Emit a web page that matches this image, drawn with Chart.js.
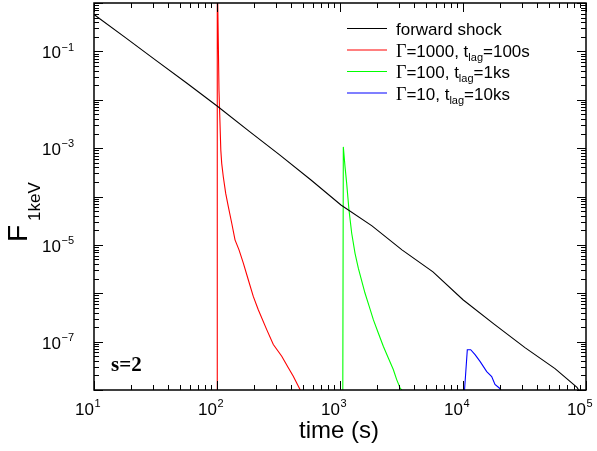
<!DOCTYPE html>
<html>
<head>
<meta charset="utf-8">
<script src="https://cdn.jsdelivr.net/npm/chart.js@4"></script>
<style>
  body { margin: 0; background: #fff; }
  canvas { display: block; }
</style>
</head>
<body>
<canvas id="chart" width="597" height="451"></canvas>
<script>
// Data (time in s, flux at 1 keV)
var shockTime = [10, 17.9, 31.9, 57.0, 102, 182, 325, 581, 1018, 1820, 3190, 5700, 10000, 17900, 31900, 56000, 84500, 95000];
var shockFlux = [0.579, 0.195, 0.0652, 0.0219, 7.18e-3, 2.24e-3, 7.18e-4, 2.19e-4, 6.68e-5, 2.47e-5, 7.9e-6, 2.77e-6, 7.35e-7, 2.30e-7, 7.52e-8, 2.77e-8, 1.13e-8, 7e-9];

var redTime = [100, 100.5, 103.8, 107.4, 109.2, 112.5, 117.7, 123.6, 131.8, 140.1, 151, 163.7, 179.6, 197.2, 216.6, 253.6, 287, 336, 380, 417, 473, 519];
var redFlux = [1e-9, 5, 1.57e-2, 9.1e-4, 4.84e-4, 2.56e-4, 1.16e-4, 6.2e-5, 2.8e-5, 1.27e-5, 7.9e-6, 4.2e-6, 1.9e-6, 8.6e-7, 4.57e-7, 1.77e-7, 8.7e-8, 4.98e-8, 2.87e-8, 1.93e-8, 1.02e-8, 6.4e-9];

var greenTime = [1052, 1064, 1099, 1133, 1183, 1245, 1325, 1409, 1596, 1730, 1866, 2048, 2249, 2471, 2712, 2890, 3075, 3311];
var greenFlux = [1e-9, 1.06e-3, 4.1e-4, 1.87e-4, 5.3e-5, 1.74e-5, 6.7e-6, 3.3e-6, 1.01e-6, 5.3e-7, 2.84e-7, 1.51e-7, 8.0e-8, 4.6e-8, 2.65e-8, 1.64e-8, 1.11e-8, 8.7e-9];

var blueTime = [10100, 10840, 11550, 12530, 13750, 15590, 17110, 18200, 19720, 20270, 20500];
var blueFlux = [5e-9, 6.8e-8, 6.8e-8, 5.4e-8, 3.9e-8, 2.4e-8, 1.9e-8, 1.3e-8, 1.1e-8, 1e-8, 5e-9];

var xTickExps = [1, 2, 3, 4, 5];
var yTickExps = [-1, -3, -5, -7];

// legend labels: [gamma value, lag value]
var legendLabels = [null, ['1000', '100s'], ['100', '1ks'], ['10', '10ks']];

function toPoints(xs, ys) {
    return xs.map(function (x, i) { return { x: x, y: ys[i] }; });
}

function series(label, xs, ys, color) {
    return {
        label: label,
        data: toPoints(xs, ys),
        showLine: true,
        borderColor: color,
        backgroundColor: color,
        borderWidth: 1.1,
        pointRadius: 0,
        tension: 0
    };
}

var SANS = '"Liberation Sans", Arial, sans-serif';
var SERIF = '"Liberation Serif", "Times New Roman", serif';

// draws "10" with a raised exponent; anchor = x where "10" ends
function drawPower(ctx, xEnd, base, exp, size) {
    ctx.font = size + 'px ' + SANS;
    ctx.textAlign = 'right';
    ctx.textBaseline = 'alphabetic';
    ctx.fillText('10', xEnd, base);
    ctx.font = Math.round(size * 0.65) + 'px ' + SANS;
    ctx.textAlign = 'left';
    ctx.fillText(exp, xEnd + 0.5, base - size * 0.45);
}

// axes frame, inward ticks, labels, legend, annotations
var decorations = {
    id: 'decorations',
    afterDatasetsDraw: function (chart) {
        var ctx = chart.ctx;
        var a = chart.chartArea;
        var xs = chart.scales.x, ys = chart.scales.y;
        ctx.save();
        ctx.strokeStyle = '#000';
        ctx.fillStyle = '#000';

        // ticks
        ctx.lineWidth = 1;
        ctx.beginPath();
        var d, k, p, len;
        for (d = 1; d <= 5; d++) {
            for (k = 1; k <= 9; k++) {
                if (d === 5 && k > 1) break;
                p = Math.round(xs.getPixelForValue(k * Math.pow(10, d))) + 0.5;
                len = k === 1 ? 9 : 5;
                ctx.moveTo(p, a.bottom); ctx.lineTo(p, a.bottom - len);
                ctx.moveTo(p, a.top); ctx.lineTo(p, a.top + len);
            }
        }
        for (d = -8; d <= 0; d++) {
            for (k = 1; k <= 9; k++) {
                if (d === 0 && k > 1) break;
                p = Math.round(ys.getPixelForValue(k * Math.pow(10, d))) + 0.5;
                len = k === 1 ? 9 : 5;
                ctx.moveTo(a.left, p); ctx.lineTo(a.left + len, p);
                ctx.moveTo(a.right, p); ctx.lineTo(a.right - len, p);
            }
        }
        ctx.stroke();

        // frame
        ctx.lineWidth = 1.5;
        ctx.strokeRect(a.left, a.top, a.right - a.left, a.bottom - a.top);

        // x tick labels
        xTickExps.forEach(function (e) {
            var px = xs.getPixelForValue(Math.pow(10, e));
            drawPower(ctx, px, 415, String(e), 17);
        });
        // y tick labels
        yTickExps.forEach(function (e) {
            var py = ys.getPixelForValue(Math.pow(10, e));
            drawPower(ctx, 61, py + 7, '\u2212' + (-e), 17);
        });

        // x title
        ctx.font = '24px ' + SANS;
        ctx.textAlign = 'center';
        ctx.fillText('time (s)', 339, 438);

        // y title: F with subscript 1keV, rotated
        ctx.save();
        ctx.translate(27, 242);
        ctx.rotate(-Math.PI / 2);
        ctx.textAlign = 'left';
        ctx.font = '28px ' + SANS;
        ctx.fillText('F', 0, 0);
        ctx.font = '17px ' + SANS;
        ctx.fillText('1keV', 21, 13);
        ctx.restore();

        // s=2
        ctx.font = 'bold 21px ' + SERIF;
        ctx.textAlign = 'left';
        ctx.fillText('s=2', 111, 371);

        // legend
        var rowY = [28.5, 50, 71.5, 93];
        chart.data.datasets.forEach(function (ds, i) {
            var y = rowY[i];
            ctx.strokeStyle = ds.borderColor;
            ctx.lineWidth = 1.2;
            ctx.beginPath();
            ctx.moveTo(347, y); ctx.lineTo(387, y);
            ctx.stroke();
            var x = 396, base = y + 6.5;
            ctx.fillStyle = '#000';
            ctx.textAlign = 'left';
            var lab = legendLabels[i];
            if (!lab) {
                ctx.font = '17px ' + SANS;
                ctx.fillText(ds.label, x, base);
                return;
            }
            ctx.font = '18px ' + SERIF;
            ctx.fillText('\u0393', x, base);
            x += ctx.measureText('\u0393').width;
            ctx.font = '17px ' + SANS;
            var s1 = '=' + lab[0] + ', t';
            ctx.fillText(s1, x, base);
            x += ctx.measureText(s1).width;
            ctx.font = '11px ' + SANS;
            ctx.fillText('lag', x, base + 4);
            x += ctx.measureText('lag').width;
            ctx.font = '17px ' + SANS;
            ctx.fillText('=' + lab[1], x, base);
        });
        ctx.restore();
    }
};

new Chart(document.getElementById('chart').getContext('2d'), {
    type: 'scatter',
    data: {
        datasets: [
            series('forward shock', shockTime, shockFlux, '#000000'),
            series('red', redTime, redFlux, '#ff0000'),
            series('green', greenTime, greenFlux, '#00ff00'),
            series('blue', blueTime, blueFlux, '#0000ff')
        ]
    },
    options: {
        responsive: false,
        animation: false,
        layout: { padding: { left: 94, right: 11, top: 3, bottom: 61 } },
        scales: {
            x: { type: 'logarithmic', min: 10, max: 1e5, display: false },
            y: { type: 'logarithmic', min: 1e-8, max: 1, display: false }
        },
        plugins: {
            legend: { display: false },
            tooltip: { enabled: false }
        }
    },
    plugins: [decorations]
});
</script>
</body>
</html>
